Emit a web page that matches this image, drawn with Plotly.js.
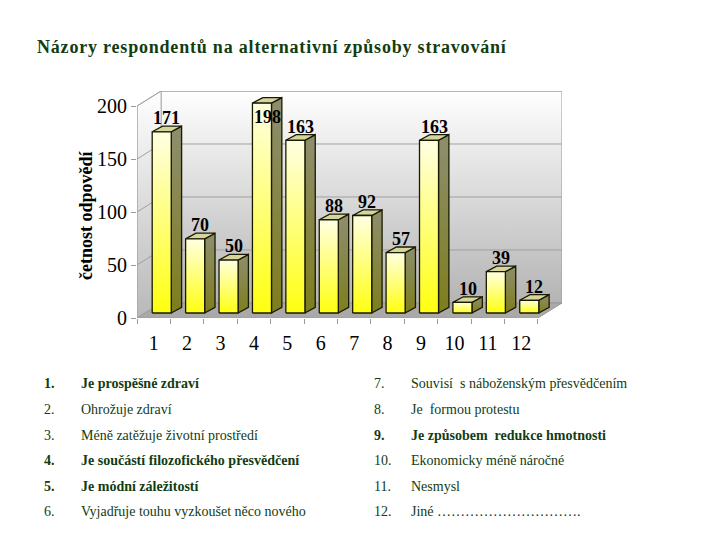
<!DOCTYPE html>
<html><head><meta charset="utf-8">
<script src="https://cdn.plot.ly/plotly-3.0.1.min.js"></script>
<style>body{margin:0;background:#fff}#chart{width:720px;height:540px}
.gtitle{letter-spacing:0.8px}</style>
</head><body><div id="chart"></div>
<script>
// ---- data ----
const categories = ['1','2','3','4','5','6','7','8','9','10','11','12'];
const counts = [171, 70, 50, 198, 163, 88, 92, 57, 163, 10, 39, 12];
const yTicks = [0, 50, 100, 150, 200];
const itemNumbers = ['1.','2.','3.','4.','5.','6.','7.','8.','9.','10.','11.','12.'];
const itemLabels = [
  'Je prospěšné zdraví',
  'Ohrožuje zdraví',
  'Méně zatěžuje životní prostředí',
  'Je součástí filozofického přesvědčení',
  'Je módní záležitostí',
  'Vyjadřuje touhu vyzkoušet něco nového',
  'Souvisí  s náboženským přesvědčením',
  'Je  formou protestu',
  'Je způsobem  redukce hmotnosti',
  'Ekonomicky méně náročné',
  'Nesmysl',
  'Jiné ………………………….'
];
const itemBold = [true,false,false,true,true,false,false,false,true,false,false,false];
const chartTitle = 'Názory respondentů na alternativní způsoby stravování';
const yTitle = 'četnost odpovědí';

// ---- geometry (layout constants) ----
const X0 = 0.5, X1 = categories.length + 0.5;   // front plane
const DX = 0.72, DY = 14.2;                     // wall depth offset
const YMAX = 200;
const BX = 0.24, BY = 4.7;                      // bar depth position
const HW = 0.285;                               // half front width
const SX = 0.31, SY = 5.3;                      // bar depth
const ML = 137, MR = 158, MT = 91, MB = 222;
const PW = 720 - ML - MR, PH = 540 - MT - MB;
const pxX = p => (p - ML) / PW;
const pxY = p => (540 - MB - p) / PH;

const SERIF = 'Liberation Serif';
const GREEN = '#123c12';
const traces = [];
function poly(x, y, opts) {
  traces.push(Object.assign({type:'scatter', mode:'lines', x, y, fill:'toself',
    hoverinfo:'skip', showlegend:false}, opts));
}

// walls
poly([X0+DX, X1+DX, X1+DX, X0+DX, X0+DX], [DY, DY, YMAX+DY, YMAX+DY, DY], {
  line:{color:'#9a9a9a', width:1},
  fillgradient:{type:'vertical', colorscale:[[0,'#b4b4b4'],[1,'#ffffff']]}
});
poly([X0, X0+DX, X0+DX, X0, X0], [0, DY, YMAX+DY, YMAX, 0], {
  line:{color:'#b0b0b0', width:1},
  fillgradient:{type:'vertical', colorscale:[[0,'#b8b8b8'],[1,'#ffffff']]}
});
poly([X0, X1, X1+DX, X0+DX, X0], [0, 0, DY, DY, 0], {
  line:{color:'#9a9a9a', width:1}, fillcolor:'#a9a9a9'
});
// gridlines on walls
yTicks.filter(t => t > 0).forEach(t => {
  traces.push({type:'scatter', mode:'lines', x:[X0, X0+DX, X1+DX], y:[t, t+DY, t+DY],
    line:{color:'#a0a0a0', width:1}, hoverinfo:'skip', showlegend:false});
});

// bars
const annotations = [];
counts.forEach((v, i) => {
  const p = i + 1;
  const xl = p + BX - HW, xr = p + BX + HW, yb = BY, yt = v + BY;
  const edge = {color:'#1a1a00', width:1.3};
  poly([xr, xr+SX, xr+SX, xr, xr], [yb, yb+SY, yt+SY, yt, yb], {
    line:edge, fillgradient:{type:'vertical', colorscale:[[0,'#7e7e1c'],[1,'#8e8e70']]}
  });
  poly([xl, xr, xr+SX, xl+SX, xl], [yt, yt, yt+SY, yt+SY, yt], {
    line:edge, fillcolor:'#d6d69c'
  });
  poly([xl, xr, xr, xl, xl], [yb, yb, yt, yt, yb], {
    line:edge, fillgradient:{type:'vertical', colorscale:[[0,'#ffff10'],[1,'#ffffe2']]}
  });
  annotations.push({x: p + BX + SX/2, y: Math.min(yt + SY, 182), xref:'x', yref:'y',
    text: '<b>' + v + '</b>', showarrow:false, yanchor:'bottom', yshift:-4,
    font:{family:SERIF, size:18, color:'#000'}});
});

// front y axis line
traces.push({type:'scatter', mode:'lines', x:[X0, X0], y:[0, YMAX],
  line:{color:'#a0a0a0', width:1}, hoverinfo:'skip', showlegend:false});

// y title
annotations.push({xref:'paper', yref:'paper', x:pxX(86), y:pxY(215), text:'<b>' + yTitle + '</b>',
  textangle:-90, showarrow:false, xanchor:'center', yanchor:'middle',
  font:{family:SERIF, size:18, color:'#000'}});

// legend table
const rowY = [383, 409, 435, 460, 486, 511];
itemLabels.forEach((lab, i) => {
  const col = i < 6 ? 0 : 1, row = i % 6;
  const nx = col === 0 ? 42 : 372, tx = col === 0 ? 79 : 409;
  const wrap = s => itemBold[i] ? '<b>' + s + '</b>' : s;
  const f = {family:SERIF, size:14, color:GREEN};
  annotations.push({xref:'paper', yref:'paper', x:pxX(nx), y:pxY(rowY[row]), text:wrap(itemNumbers[i]),
    showarrow:false, xanchor:'left', yanchor:'middle', font:f});
  annotations.push({xref:'paper', yref:'paper', x:pxX(tx), y:pxY(rowY[row]), text:wrap(lab),
    showarrow:false, xanchor:'left', yanchor:'middle', font:f});
});

const layout = {
  width:720, height:540, paper_bgcolor:'#fff', plot_bgcolor:'rgba(0,0,0,0)',
  margin:{l:ML, r:MR, t:MT, b:MB, pad:0},
  font:{family:SERIF},
  title:{text:'<b>' + chartTitle + '</b>', xref:'container', yref:'container', x:37/720, xanchor:'left',
    y:1-47/540, yanchor:'middle', font:{family:SERIF, size:18, color:GREEN}},
  xaxis:{range:[X0, X1+DX], showgrid:false, zeroline:false, showline:false,
    tickmode:'array', tickvals:categories.map((c,i)=>i+1), ticktext:categories,
    ticks:'outside', ticklen:7, tickcolor:'rgba(0,0,0,0)',
    tickfont:{family:SERIF, size:20, color:'#000'},
    minor:{tick0:0.5, dtick:1, ticks:'outside', ticklen:5, tickcolor:'#999', showgrid:false}},
  yaxis:{range:[0, YMAX+DY], showgrid:false, zeroline:false, showline:false,
    tickmode:'array', tickvals:yTicks, ticks:'outside', ticklen:5, tickcolor:'#999',
    tickfont:{family:SERIF, size:20, color:'#000'}},
  annotations, showlegend:false
};
Plotly.newPlot('chart', traces, layout, {staticPlot:true});
</script></body></html>
